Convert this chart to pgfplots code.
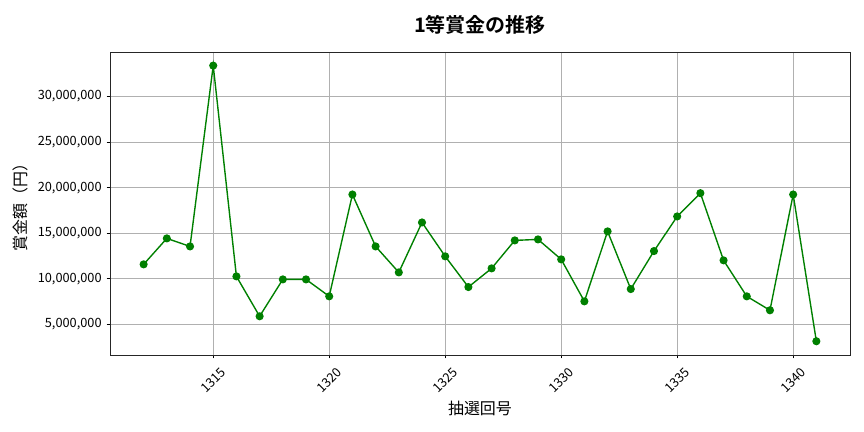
\documentclass[border=0pt]{standalone}
\usepackage{pgfplots}
\pgfplotsset{compat=1.18}
\usepackage{fontspec}
\setmainfont{Noto Sans CJK JP}[BoldFont={Noto Sans CJK JP Bold}]
\definecolor{mplgreen}{HTML}{008000}
\definecolor{gridgray}{HTML}{B0B0B0}
\begin{document}
\begin{tikzpicture}
\path[use as bounding box] (-79.2pt,-55.44pt) rectangle ++(622.08pt,311.04pt);
\begin{axis}[
  at={(0,0)}, anchor=south west,
  scale only axis, width=532.8pt, height=218.2pt,
  xmin=1310.55, xmax=1342.45,
  ymin=1630000, ymax=34900000,
  xtick={1315,1320,1325,1330,1335,1340},
  ytick={5000000,10000000,15000000,20000000,25000000,30000000},
  scaled y ticks=false,
  /pgf/number format/assume math mode=true,
  xticklabel style={anchor=center, yshift=-15.5pt, rotate=45, font=\fontsize{9.2}{10}\selectfont, /pgf/number format/1000 sep={}},
  yticklabel style={font=\fontsize{9.2}{10}\selectfont, /pgf/number format/fixed, /pgf/number format/1000 sep={,}},
  grid=major,
  major grid style={gridgray, line width=0.6pt},
  tick align=outside,
  tick pos=left,
  major tick length=2.5pt,
  tick style={black, line width=0.6pt},
  axis line style={line width=0.6pt, black!85},
  xlabel={抽選回号},
  ylabel={賞金額（円）},
  xlabel style={at={(axis description cs:0.5,-0.175)}, anchor=center, font=\fontsize{11.5}{13}\selectfont},
  ylabel style={at={(axis description cs:-0.1216,0.5)}, anchor=center, font=\fontsize{11.5}{13}\selectfont},
  title={\bfseries 1等賞金の推移},
  title style={at={(axis description cs:0.5,1.063)}, anchor=center, font=\fontsize{14.4}{16}\selectfont},
]
\addplot[mplgreen, line width=1pt, mark=*, mark size=2.4pt, mark options={fill=mplgreen, draw=mplgreen}] coordinates {
(1312,11580000)
(1313,14430000)
(1314,13550000)
(1315,33400000)
(1316,10260000)
(1317,5880000)
(1318,9930000)
(1319,9930000)
(1320,8070000)
(1321,19250000)
(1322,13550000)
(1323,10700000)
(1324,16180000)
(1325,12460000)
(1326,9090000)
(1327,11140000)
(1328,14210000)
(1329,14320000)
(1330,12130000)
(1331,7520000)
(1332,15200000)
(1333,8870000)
(1334,13040000)
(1335,16840000)
(1336,19400000)
(1337,12020000)
(1338,8070000)
(1339,6540000)
(1340,19250000)
(1341,3140000)
};
\end{axis}
\end{tikzpicture}
\end{document}
